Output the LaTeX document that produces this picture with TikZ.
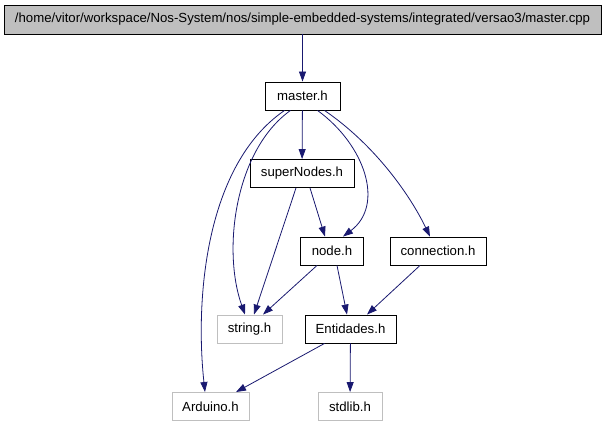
\documentclass[tikz,border=0pt]{standalone}
\usepackage{fontspec}
\setmainfont{Liberation Sans}
\usetikzlibrary{arrows.meta}
\definecolor{edgeblue}{HTML}{191970}
\definecolor{lgray}{HTML}{BFBFBF}
\tikzset{
  box/.style={draw=black, line width=0.9pt, fill=white, inner sep=0pt, font=\fontsize{13.2}{15}\selectfont, minimum height=28pt},
  graybox/.style={box, draw=lgray},
  topbox/.style={box, fill=lgray, minimum height=29pt},
  dep/.style={draw=edgeblue, line width=0.8pt, -{Triangle[length=10pt,width=7pt]}},
}
\begin{document}
\begin{tikzpicture}[x=1pt,y=-1pt]
\useasboundingbox (0,0) rectangle (605,427);
\fill[white] (0,0) rectangle (605,427);
\node[topbox, minimum width=597pt] (top) at (302.5,19.5) {/home/vitor/workspace/Nos-System/nos/simple-embedded-systems/integrated/versao3/master.cpp};
\node[box, minimum width=75pt] (m) at (302.5,96) {master.h};
\node[box, minimum width=104pt] (sn) at (302,173.5) {superNodes.h};
\node[box, minimum width=63pt] (nd) at (332,251) {node.h};
\node[box, minimum width=96pt] (cn) at (438,251) {connection.h};
\node[graybox, minimum width=65pt] (st) at (249.5,329) {string.h};
\node[box, minimum width=91pt] (en) at (350.5,329) {Entidades.h};
\node[graybox, minimum width=77pt] (ar) at (210.5,406.5) {Arduino.h};
\node[graybox, minimum width=64pt] (sl) at (350,406.5) {stdlib.h};

\draw[dep] (top) -- (m);
\draw[dep] (m) -- (sn);
\draw[dep] (m.south west) ++(20,0) .. controls (205,165) and (195,300) .. (ar.north -| 205,0);
\draw[dep] (m.south) ++(-12,0) .. controls (235,150) and (222,250) .. (st.north -| 245,0);
\draw[dep] (m.south) ++(15,0) .. controls (365,145) and (385,205) .. (nd.north -| 343,0);
\draw[dep] (m.south) ++(22,0) .. controls (375,145) and (410,195) .. (cn.north -| 430,0);
\draw[dep] (sn.south) ++(8,0) -- (nd.north -| 325,0);
\draw[dep] (sn.south) ++(-6,0) -- (st.north -| 254,0);
\draw[dep] (nd.south) ++(-15,0) -- (st.north -| 263,0);
\draw[dep] (nd.south) ++(5,0) -- (en.north -| 347,0);
\draw[dep] (cn.south) ++(-18,0) -- (en.north -| 367,0);
\draw[dep] (en.south) ++(-26,0) -- (ar.north -| 236,0);
\draw[dep] (en) -- (sl);
\end{tikzpicture}
\end{document}
